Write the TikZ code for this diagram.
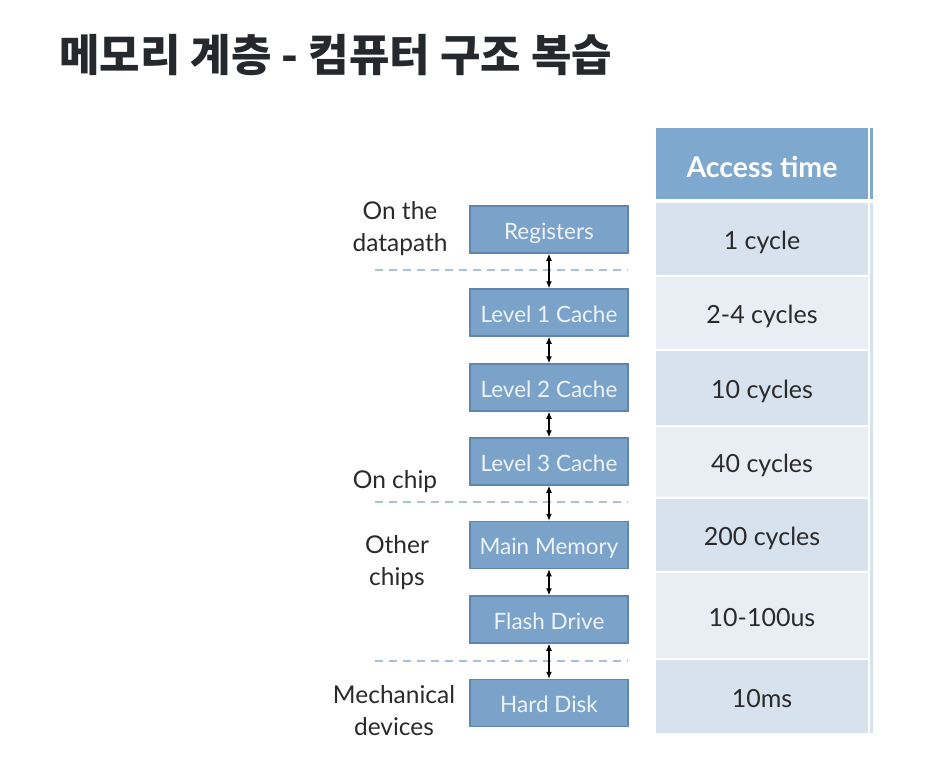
\documentclass[tikz,border=0pt]{standalone}
\usepackage{fontspec}
\setmainfont{Lato}
\newfontfamily\krfont{Noto Sans CJK KR}
\usetikzlibrary{arrows.meta}
\definecolor{boxfill}{HTML}{7BA3C9}
\definecolor{boxdraw}{HTML}{5F86AE}
\definecolor{boxtext}{HTML}{EEF3F8}
\definecolor{headfill}{HTML}{7FA8CF}
\definecolor{rowdark}{HTML}{D6E2ED}
\definecolor{rowlight}{HTML}{E9EEF5}
\definecolor{dashcol}{HTML}{A9C2D8}
\definecolor{titlecol}{HTML}{25282C}
\definecolor{labcol}{HTML}{2A2A2A}
\tikzset{
  membox/.style={draw=boxdraw, line width=1.5pt, fill=boxfill, minimum width=158pt, minimum height=47pt, inner sep=0pt, text=boxtext, font=\fontsize{22.5}{26}\selectfont, text height=22pt, text depth=3pt},
  cell/.style={minimum width=212pt, inner sep=0pt, text=labcol, font=\fontsize{25}{29}\selectfont, text height=24pt, text depth=3pt},
  headcell/.style={cell, text=white, font=\bfseries\fontsize{28.5}{32}\selectfont, text height=29pt, text depth=0.5pt},
  sidelab/.style={align=center, text=labcol, font=\fontsize{24.5}{32}\selectfont},
  link/.style={{Latex[length=7pt,width=6pt]}-{Latex[length=7pt,width=6pt]}, line width=1.2pt, black},
  sep/.style={dashcol, line width=1.5pt, dash pattern=on 8pt off 6pt}
}
\begin{document}
\begin{tikzpicture}[x=1pt,y=-1pt]
\useasboundingbox (0,0) rectangle (925,765);
\fill[white] (0,0) rectangle (925,765);
% title
\node[anchor=west, text=titlecol, font=\krfont\bfseries\fontsize{44}{50}\selectfont, inner sep=0pt] (title) at (59,55) {메모리 계층 - 컴퓨터 구조 복습};
% table
\node[headcell, fill=headfill, minimum height=71pt] (h) at (762,163.5) {Access time};
\node[cell, fill=rowdark, minimum height=72pt] (t1) at (762,239) {1 cycle};
\node[cell, fill=rowlight, minimum height=72pt] (t2) at (762,313) {2-4 cycles};
\node[cell, fill=rowdark, minimum height=74pt] (t3) at (762,388) {10 cycles};
\node[cell, fill=rowlight, minimum height=70pt] (t4) at (762,462) {40 cycles};
\node[cell, fill=rowdark, minimum height=72pt] (t5) at (762,535) {200 cycles};
\node[cell, fill=rowlight, minimum height=85pt] (t6) at (762,615.5) {10-100us};
\node[cell, fill=rowdark, minimum height=73pt] (t7) at (762,696.5) {10ms};
\fill[headfill] (870,128) rectangle (873,199);
\fill[rowdark] (870,203) rectangle (873,733);
% boxes
\node[membox] (r) at (549,229.5) {Registers};
\node[membox] (c1) at (549,312.5) {Level 1 Cache};
\node[membox] (c2) at (549,387.5) {Level 2 Cache};
\node[membox] (c3) at (549,461.5) {Level 3 Cache};
\node[membox] (mm) at (549,545) {Main Memory};
\node[membox] (fd) at (549,619.5) {Flash Drive};
\node[membox] (hd) at (549,703) {Hard Disk};
% dashed separators
\coordinate (s1a) at (375,270); \coordinate (s1b) at (628,270);
\coordinate (s2a) at (375,502); \coordinate (s2b) at (628,502);
\coordinate (s3a) at (375,661); \coordinate (s3b) at (628,661);
\draw[sep] (s1a) -- (s1b);
\draw[sep] (s2a) -- (s2b);
\draw[sep] (s3a) -- (s3b);
% links
\draw[link] (r.south) -- (c1.north);
\draw[link] (c1.south) -- (c2.north);
\draw[link] (c2.south) -- (c3.north);
\draw[link] (c3.south) -- (mm.north);
\draw[link] (mm.south) -- (fd.north);
\draw[link] (fd.south) -- (hd.north);
% side labels
\node[sidelab] (l1) at (400,229) {On the\\datapath};
\node[sidelab] (l2) at (395,482) {On chip};
\node[sidelab] (l3) at (397,563) {Other\\chips};
\node[sidelab] (l4) at (394,711) {Mechanical\\devices};
\end{tikzpicture}
\end{document}
